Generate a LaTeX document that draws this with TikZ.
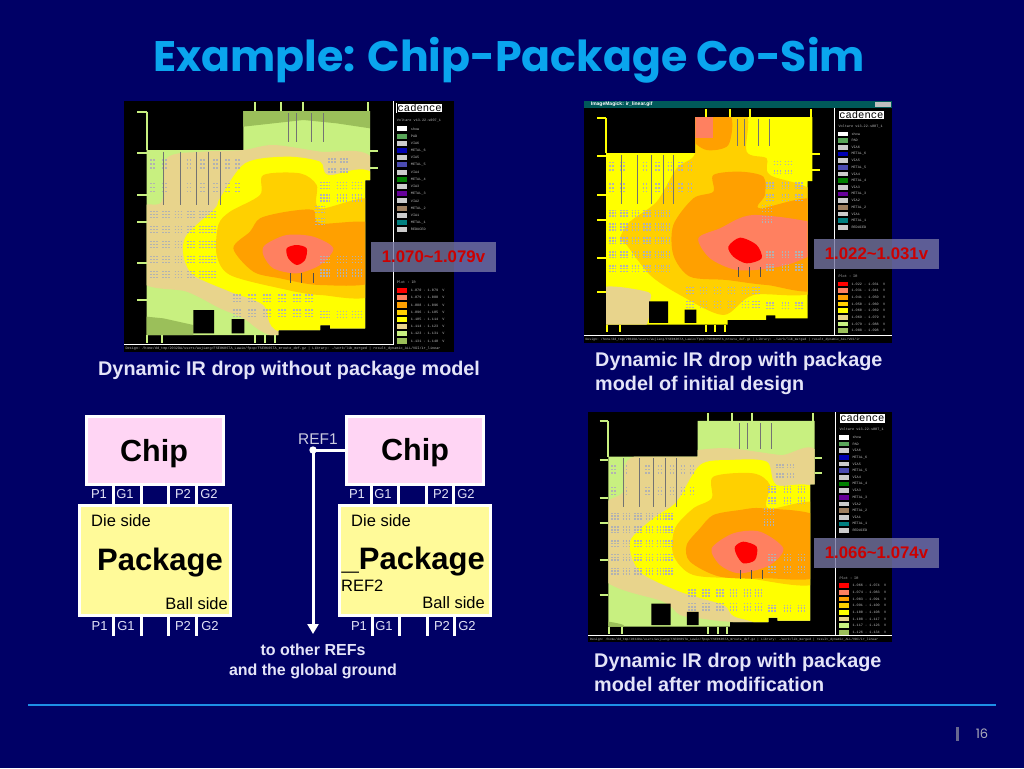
\documentclass[tikz,border=0pt]{standalone}
\usepackage{fontspec}
\setmainfont{Liberation Sans}
\setmonofont{Liberation Mono}
\newfontfamily\titlefont{Poppins}
\usetikzlibrary{arrows.meta}
\definecolor{slidebg}{HTML}{000066}
\definecolor{titleblue}{HTML}{0AA5EE}
\definecolor{rule}{HTML}{1E8FE6}
\definecolor{softwhite}{HTML}{E4E4F8}
\definecolor{lvl1}{HTML}{FF0000}
\definecolor{lvl2}{HTML}{FF8060}
\definecolor{lvl3}{HTML}{FFA000}
\definecolor{lvl4}{HTML}{FFD000}
\definecolor{lvl5}{HTML}{FFFF00}
\definecolor{lvl6}{HTML}{E8D48C}
\definecolor{lvl7}{HTML}{C8F080}
\definecolor{lvl8}{HTML}{9BBF5A}
\tikzstyle{chipbox} = [rectangle, minimum width=137pt, minimum height=68pt, inner sep=0pt, outer sep=0pt, draw=white, line width=3pt, fill=pink!60!magenta!30!white]
\tikzstyle{chiptext} = [inner sep=0pt, text=black, font=\fontsize{30.5}{32}\selectfont\bfseries]
\tikzstyle{pkgbox} = [rectangle, minimum width=151pt, minimum height=110pt, inner sep=0pt, outer sep=0pt, draw=white, line width=3pt, fill=yellow!40!white]
\tikzstyle{pkgtext} = [inner sep=0pt, text=black, font=\fontsize{31}{32}\selectfont\bfseries]
\tikzstyle{sidetext} = [inner sep=0pt, text=black, font=\fontsize{16.5}{18}\selectfont]
\tikzstyle{pintext} = [inner sep=0pt, text=softwhite, font=\fontsize{13}{15}\selectfont]
\tikzstyle{pin} = [draw=white, line width=3pt]
\tikzstyle{caption} = [inner sep=0pt, anchor=west, align=left, text=softwhite, font=\fontsize{19.8}{24}\selectfont\bfseries]
\tikzstyle{dropbox} = [rectangle, minimum width=125pt, minimum height=30pt, inner sep=0pt, fill=white!45!slidebg!80!gray, fill opacity=.8, text opacity=1, text=red!80!black, font=\fontsize{16.8}{18}\selectfont\bfseries]
\tikzstyle{tiny} = [inner sep=0pt, anchor=west, text=white!75!black, font=\fontsize{3.5}{4}\selectfont\ttfamily]
\tikzstyle{viamark} = [draw=black!30, line width=1.5pt, dash pattern=on 1.5pt off 1.5pt]
\tikzstyle{fitone} = []
\tikzstyle{fittwo} = [shift={(4.1,21.9)}, xscale=.924, yscale=.926]
\tikzstyle{fitthree} = [shift={(11,3.4)}, xscale=.924, yscale=.919]
% chip outline, in the coordinates of the first map
\newcommand{\chipoutline}{(80,165) -- (370,165) -- (370,48) -- (750,48) -- (750,255) -- (735,255) -- (735,700) -- (630,700) -- (630,690) -- (600,690) -- (600,705) -- (475,705) -- (475,720) -- (80,720) -- cycle}
\newcommand{\blob}[2]{\fill [#1] plot [smooth cycle] coordinates {#2};}
% via clusters, pin ticks and the black holes of the chip
\newcommand{\chipdetail}[2]{
\begin{scope}[#1]
\foreach \x in {90,127,164,201,238,265} \foreach \y in {350,395,440,485,530} {
  \draw [viamark] (\x,\y) -- ++(24,0) (\x,\y+9) -- ++(24,0) (\x,\y+18) -- ++(24,0);
}
\foreach \x in {90,127,200,240,280,315,345} \foreach \y in {195,265} {
  \draw [viamark] (\x,\y) -- ++(18,0) (\x,\y+12) -- ++(18,0) (\x,\y+24) -- ++(18,0);
}
\foreach \x in {340,385,430,475,520,555} \foreach \y in {600,645} {
  \draw [viamark] (\x,\y) -- ++(26,0) (\x,\y+10) -- ++(26,0) (\x,\y+20) -- ++(26,0);
}
\foreach \x in {600,650,695} \foreach \y in {262,300,485,525,650} {
  \draw [viamark] (\x,\y) -- ++(28,0) (\x,\y+9) -- ++(28,0) (\x,\y+18) -- ++(28,0);
}
\foreach \x in {625,660} \foreach \y in {192,222} {
  \draw [viamark] (\x,\y) -- ++(26,0) (\x,\y+9) -- ++(26,0);
}
\foreach \y in {335,370} {
  \draw [viamark] (585,\y) -- ++(30,0) (585,\y+9) -- ++(30,0) (585,\y+18) -- ++(30,0);
}
\foreach \x in {130,182,228,265,300} { \draw [black!55, line width=.8pt] (\x,170) -- (\x,330); }
\foreach \x in {505,530,575,610} { \draw [black!55, line width=.8pt] (\x,55) -- (\x,140); }
\foreach \x in {510,545,580} { \draw [black!70, line width=.8pt] (\x,535) -- (\x,565); }
\fill [black] (220,645) rectangle (282,715) (335,672) rectangle (373,715);
\foreach \y in {50,175,300,380,503,615} { \draw [#2, line width=2pt] (52,\y) -- (80,\y); }
\draw [#2, line width=2pt] (80,50) -- (80,165);
\foreach \x in {405,482,548,745} { \draw [#2, line width=2pt] (\x,22) -- (\x,48); }
\foreach \y in {168,218} { \draw [#2, line width=2pt] (750,\y) -- (775,\y); }
\foreach \x in {82,125,405,435,465} { \draw [#2, line width=2pt] (\x,720) -- (\x,745); }
\end{scope}
}
% legend panel: x, top of logo, row step, y of plot title, voltage ranges
\newcommand{\legendpanel}[5]{
\node (logo) [anchor=north west, draw=white, double=black, double distance=.5pt, fill=white, inner sep=.8pt, text=black, font=\fontsize{10.5}{10.5}\selectfont\ttfamily] at (#1,#2) {cadence};
\node (version) [tiny] at (#1,#2+2.45*#3) {Voltare v13.22-s007\_1};
\foreach \c/\t [count=\n] in {white/show, green!30!gray/PAD, black!20/VIA6, blue!70!black/METAL\_6, black!20/VIA5, blue!40!gray/METAL\_5, black!20/VIA4, green!50!black/METAL\_4, black!20/VIA3, violet!80!blue/METAL\_3, black!20/VIA2, brown!50!gray/METAL\_2, black!20/VIA1, teal/METAL\_1, black!20/REDUCED} {
  \fill [\c] (#1,#2+3.6*#3+\n*#3-#3-.35*#3) rectangle ++(1.5*#3,.7*#3);
  \node (layer\n) [tiny] at (#1+1.95*#3,#2+3.6*#3+\n*#3-#3) {\t};
}
\node (plot) [tiny] at (#1,#4) {Plot : IR};
\foreach \v [count=\n] in {#5} {
  \fill [lvl\n] (#1,#4+\n*#3+.1*#3-.35*#3) rectangle ++(1.5*#3,.7*#3);
  \node (range\n) [tiny] at (#1+1.95*#3,#4+\n*#3+.1*#3) {\v\ \ V};
}
}
\begin{document}
\begin{tikzpicture}[x=1pt, y=-1pt, node distance=109.5pt]
\useasboundingbox (0,0) rectangle (1024,768);
\fill [slidebg] (0,0) rectangle (1024,768);
\node (title) [inner sep=0pt, text=titleblue, font=\fontsize{42.7}{48}\selectfont\titlefont\bfseries] at (509,60) {Example: Chip-Package Co-Sim};
% first map
\begin{scope}[shift={(120,95)}, scale=1/3]
\fill [black] (12,18) rectangle (1003,770);
\begin{scope}
\clip \chipoutline;
\fill [lvl7] (0,0) rectangle (1000,800);
\fill [lvl8] (370,48) -- (750,48) -- (750,100) -- (650,85) -- (550,75) -- (370,95) -- cycle;
\fill [lvl8] (80,665) -- (130,670) -- (220,690) -- (220,720) -- (80,720) -- cycle;
\blob{lvl6}{(370,165) (460,150) (600,170) (760,195) (770,500) (760,730) (470,725) (370,670) (300,640) (200,590) (60,555) (60,345) (125,320) (140,190) (250,170)}
\blob{lvl5}{(375,205) (500,185) (600,200) (625,240) (770,255) (770,720) (480,710) (430,630) (330,590) (220,540) (190,480) (200,420) (285,340) (300,310)}
\blob{lvl4}{(430,240) (540,235) (590,270) (600,340) (770,320) (770,590) (600,600) (480,580) (330,540) (290,480) (295,390) (330,350) (420,300)}
\blob{lvl3}{(420,370) (500,350) (580,345) (600,385) (770,390) (770,555) (600,570) (480,550) (400,530) (340,460) (390,410)}
\end{scope}
\blob{lvl2}{(435,450) (500,420) (580,425) (640,460) (600,510) (530,535) (460,520) (430,480)}
\blob{lvl1}{(500,460) (530,450) (560,460) (555,495) (530,510) (505,490)}
\chipdetail{fitone}{lvl7}
\draw [white, line width=1pt] (820,18) -- (820,748) -- (12,748);
\legendpanel{830}{24}{21.6}{563}{1.070 - 1.079, 1.079 - 1.088, 1.088 - 1.096, 1.096 - 1.105, 1.105 - 1.114, 1.114 - 1.123, 1.123 - 1.131, 1.131 - 1.140}
\node (status1) [tiny] at (16,762) {Design: /home/dd\_tmp/2032DA/users/wujiang/FSE0K0STA\_Lawio/fpop/FSE0K0STA\_mroute\_def.gz | Library: ./work/lib\_merged | result\_dynamic\_ALL/VDI/ir\_linear};
\end{scope}
% second map
\begin{scope}[shift={(580,95)}, scale=1/3]
\fill [black] (12,18) rectangle (935,745);
\fill [teal!70!black] (12,18) rectangle (935,38);
\node (window) [inner sep=0pt, anchor=west, text=white, font=\fontsize{5}{6}\selectfont\bfseries] at (32,28) {ImageMagick: ir\_linear.gif};
\fill [black!25] (885,21) rectangle (932,36);
\begin{scope}
\clip [fittwo] \chipoutline;
\fill [lvl5] (0,0) rectangle (1000,800);
\blob{lvl6}{(60,580) (200,590) (210,620) (190,700) (60,700)}
\blob{lvl4}{(345,175) (330,50) (495,50) (500,170) (560,190) (570,240) (720,310) (720,580) (520,600) (430,660) (300,600) (210,540) (140,450) (120,430) (150,380) (230,320) (290,220)}
\blob{lvl3}{(400,240) (480,230) (550,245) (555,300) (540,340) (720,320) (720,575) (560,570) (440,555) (330,545) (280,480) (280,390) (340,310) (400,290)}
\blob{lvl3}{(345,65) (450,60) (445,150) (380,165) (335,130)}
\blob{lvl2}{(355,430) (420,400) (520,360) (720,390) (720,460) (650,500) (570,520) (470,525) (390,490)}
\fill [lvl2] (340,60) rectangle (400,130);
\end{scope}
\blob{lvl1}{(445,455) (480,428) (530,450) (545,490) (500,505) (460,485)}
\chipdetail{fittwo}{lvl5}
\draw [white, line width=1pt] (762,38) -- (762,722) (12,722) -- (935,722);
\legendpanel{775}{45}{20}{545}{1.022 - 1.031, 1.031 - 1.041, 1.041 - 1.050, 1.050 - 1.060, 1.060 - 1.069, 1.069 - 1.079, 1.079 - 1.088, 1.088 - 1.098}
\node (status2) [tiny, font=\fontsize{3.2}{4}\selectfont\ttfamily] at (16,733) {Design: /home/dd\_tmp/2032DA/users/wujiang/FSE0K0STA\_Lawio/fpop/FSE0K0STA\_mroute\_def.gz | Library: ./work/lib\_merged | result\_dynamic\_ALL/VDI/ir};
\end{scope}
% third map
\begin{scope}[shift={(580,405)}, scale=1/3]
\fill [black] (25,22) rectangle (935,712);
\begin{scope}
\clip [fitthree] \chipoutline;
\fill [lvl7] (0,0) rectangle (1000,800);
\blob{lvl6}{(352,135) (450,130) (600,150) (720,160) (720,660) (450,650) (360,640) (300,630) (250,590) (70,520) (70,310) (130,260) (150,160)}
\blob{lvl5}{(360,180) (450,165) (560,170) (590,240) (720,270) (720,660) (480,640) (430,600) (300,560) (180,500) (150,410) (220,340) (290,290)}
\blob{lvl4}{(400,215) (520,205) (570,240) (565,310) (720,300) (720,530) (500,520) (340,510) (280,450) (285,370) (340,310) (395,280)}
\blob{lvl3}{(400,330) (480,315) (550,310) (720,340) (720,510) (560,520) (420,515) (330,470) (320,420) (360,370)}
\blob{lvl8}{(70,650) (130,660) (120,680) (70,680)}
\end{scope}
\blob{lvl2}{(395,430) (460,385) (540,380) (610,430) (570,480) (480,505) (420,480)}
\blob{lvl1}{(465,425) (490,410) (530,425) (525,465) (490,475) (470,450)}
\chipdetail{fitthree}{lvl7}
\draw [white, line width=1pt] (765,22) -- (765,692) (25,692) -- (935,692);
\legendpanel{778}{25}{20}{520}{1.066 - 1.074, 1.074 - 1.083, 1.083 - 1.091, 1.091 - 1.100, 1.100 - 1.108, 1.108 - 1.117, 1.117 - 1.126, 1.126 - 1.134}
\node (status3) [tiny, font=\fontsize{3.2}{4}\selectfont\ttfamily] at (30,703) {Design: /home/dd\_tmp/2032DA/users/wujiang/FSE0K0STA\_Lawio/fpop/FSE0K0STA\_mroute\_def.gz | Library: ./work/lib\_merged | result\_dynamic\_ALL/VDI/ir\_linear};
\end{scope}
% voltage labels
\node (dropA) [dropbox] at (433.5,257) {1.070\char`\~1.079v};
\node (dropB) [dropbox] at (876.5,254) {1.022\char`\~1.031v};
\node (dropC) [dropbox] at (876.5,553) {1.066\char`\~1.074v};
% captions
\node (capA) [caption] at (98,370) {Dynamic IR drop without package model};
\node (capB) [caption] at (595,373) {Dynamic IR drop with package\\model of initial design};
\node (capC) [caption] at (594,672) {Dynamic IR drop with package\\model after modification};
% left stack
\node (chipA) [chipbox] at (155,450.5) {};
\node (pkgA) [pkgbox, below of = chipA] {};
\node (nameC) [chiptext] at (154,454) {Chip};
\node (nameA) [pkgtext] at (160,563) {Package};
\node (dieA) [sidetext, anchor=west] at (91,521) {Die side};
\node (ballA) [sidetext, anchor=east] at (228,604) {Ball side};
\foreach \x in {113,141,168,196} {
  \draw [pin] (chipA.south -| \x,0) -- (pkgA.north -| \x,0);
  \coordinate (endA\x) at (\x+.7,636);
  \draw [pin] (pkgA.south -| endA\x) -- (endA\x);
}
\foreach \x/\t in {99/P1,125/G1,183/P2,209/G2} { \node (topA\t) [pintext] at (\x,494) {\t}; }
\foreach \x/\t in {99.6/P1,126/G1,183/P2,210/G2} { \node (botA\t) [pintext] at (\x,626) {\t}; }
% right stack
\node (chipB) [chipbox] at (415,450.5) {};
\node (pkgB) [pkgbox, below of = chipB] {};
\node (nameD) [chiptext] at (415,453) {Chip};
\node (nameB) [pkgtext, anchor=east] at (485,562) {\symbol{95}Package};
\node (dieB) [sidetext, anchor=west] at (351,521) {Die side};
\node (ballB) [sidetext, anchor=east] at (485,603) {Ball side};
\node (refB) [sidetext, anchor=west] at (341,586) {REF2};
\foreach \x in {371,398,426,453} {
  \draw [pin] (chipB.south -| \x,0) -- (pkgB.north -| \x,0);
  \coordinate (endB\x) at (\x+1,636);
  \draw [pin] (pkgB.south -| endB\x) -- (endB\x);
}
\foreach \x/\t in {357/P1,383/G1,441/P2,466/G2} { \node (topB\t) [pintext] at (\x,494) {\t}; }
\foreach \x/\t in {359/P1,384/G1,442/P2,467/G2} { \node (botB\t) [pintext] at (\x,626) {\t}; }
% ground reference
\coordinate (ref) at (313,450);
\coordinate (refend) at (313,634);
\node (refA) [pintext, text=white!80!slidebg, font=\fontsize{15.5}{17}\selectfont] at (318,439) {REF1};
\draw [white, line width=3pt] (chipB.west |- ref) -- (ref);
\draw [white, line width=3pt, -{Triangle[length=10pt,width=11pt]}] (ref) -- (refend);
\fill [white] (ref) circle (3.7pt);
\node (refnote) [inner sep=0pt, align=center, text=softwhite, font=\fontsize{16}{20}\selectfont\bfseries] at (313,661) {to other REFs\\and the global ground};
% footer
\coordinate (ruleL) at (28,705);
\coordinate (ruleR) at (996,705);
\draw [rule, line width=1.5pt] (ruleL) -- (ruleR);
\fill [black!35!softwhite!70!slidebg] (955.5,727) rectangle (959,741);
\node (pagenum) [inner sep=0pt, text=black!25!softwhite, font=\fontsize{13}{14}\selectfont\titlefont] at (982,734) {16};
\end{tikzpicture}
\end{document}
